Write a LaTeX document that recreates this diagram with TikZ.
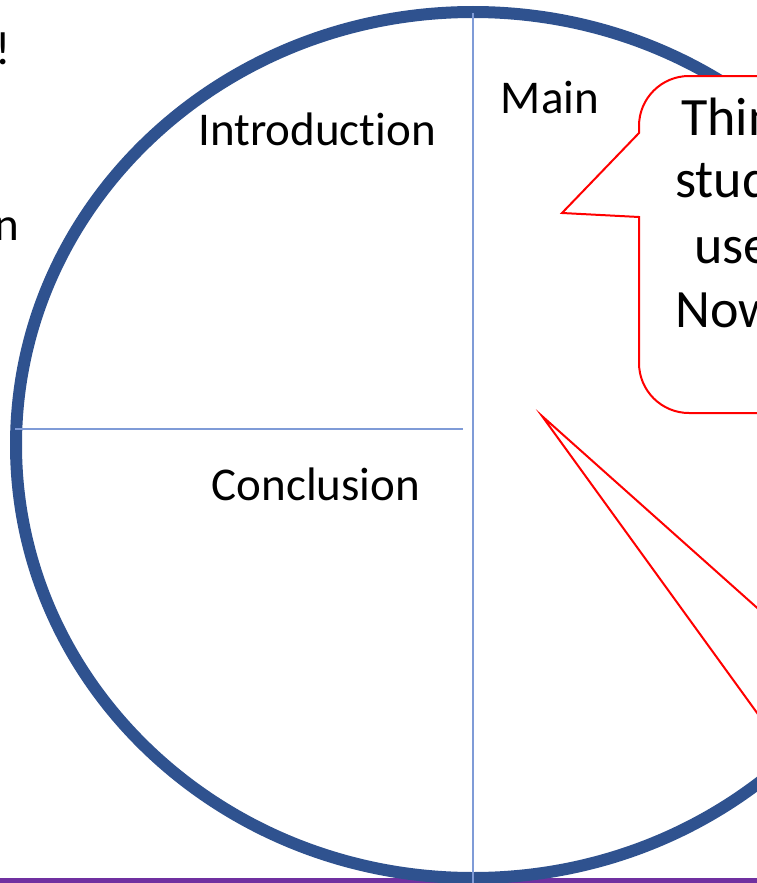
\documentclass[tikz,border=0pt]{standalone}
\usepackage{fontspec}
\setmainfont{Carlito}[Ligatures=NoCommon]
\usepackage{tikz}
\definecolor{ringblue}{HTML}{2F528F}
\definecolor{splitblue}{HTML}{7F9BD7}
\definecolor{barpurple}{HTML}{7030A0}

\begin{document}
\begin{tikzpicture}[x=1pt, y=-1pt,
		parttext/.style={inner sep=0pt, anchor=base, font=\fontsize{47}{57}\selectfont},
		sidetext/.style={inner sep=0pt, anchor=base west, font=\fontsize{47}{57}\selectfont},
		bubbletext/.style={inner sep=0pt, anchor=base west, font=\fontsize{54}{65}\selectfont},
		bubble/.style={draw=red, fill=white, line width=2pt, line join=miter},
		split/.style={draw=splitblue, line width=2pt}]
		\useasboundingbox (0,0) rectangle (757,883);
		%\draw[help lines, step=50] (0,0) grid (757,883);
		\fill[barpurple] (-10,878) rectangle (767,890);
		\draw[ringblue, line width=12pt] (473,445) ellipse [x radius=457, y radius=433];
		\coordinate (top) at (473,13);
		\coordinate (bottom) at (473,890);
		\coordinate (left) at (15,429);
		\coordinate (middle) at (463,429);
		\draw[split] (top) -- (bottom);
		\draw[split] (left) -- (middle);
		\node[parttext] (intro) at (317,145) {Introduction};
		\node[parttext] (main) at (550,113) {Main};
		\node[parttext] (concl) at (316,500) {Conclusion};
		\node[sidetext] (bang) at (-5,65) {!};
		\node[sidetext] (en) at (-6,240) {n};
		% callouts
		\coordinate (tipA) at (562,213);
		\coordinate (tipB) at (542,416);
		\path[bubble] (810,76) -- (689,76) arc[start angle=270, end angle=180, radius=50]
			-- (639,133) -- (tipA) -- (639,217) -- (639,363)
			arc[start angle=180, end angle=90, radius=50] -- (810,413) -- cycle;
		\path[bubble] (810,655) -- (tipB) -- (810,786) -- cycle;
		\node[bubbletext] (think) at (681,135) {Thin};
		\node[bubbletext] (study) at (675,197) {stud};
		\node[bubbletext] (use) at (694,263) {use};
		\node[bubbletext] (now) at (675,327) {Now};
	\end{tikzpicture}
\end{document}
